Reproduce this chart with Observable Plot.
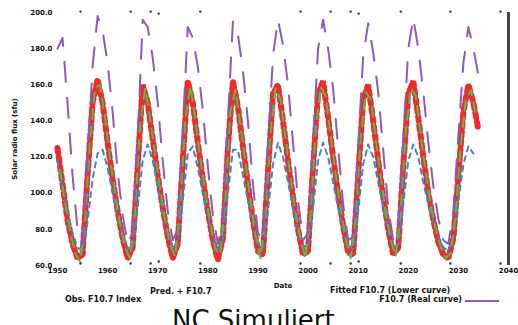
<!DOCTYPE html>
<html>
<head>
<meta charset="utf-8">
<script src="https://cdn.jsdelivr.net/npm/d3@7"></script>
<script src="https://cdn.jsdelivr.net/npm/@observablehq/plot@0.6"></script>
<style>
  html, body { margin: 0; padding: 0; background: #fff; }
  #wrap { position: relative; width: 518px; height: 325px; overflow: hidden; font-family: "DejaVu Sans", sans-serif; }
  #chart { position: absolute; left: 0; top: 0; }
  .lg { position: absolute; font-size: 8px; font-weight: bold; color: #111; white-space: nowrap; }
  .sw { position: absolute; height: 2px; }
  #title { position: absolute; left: 172px; top: 305px; font-size: 26px; color: #111; white-space: nowrap; font-family: "DejaVu Sans", sans-serif; }
</style>
</head>
<body>
<div id="wrap">
  <div id="chart"></div>
  <div class="lg" style="left:150px; top:287px;">Pred. + F10.7</div>
  <div class="lg" style="left:65px; top:295px;">Obs. F10.7 Index</div>
  <div class="lg" style="left:330px; top:286px;">Fitted F10.7 (Lower curve)</div>
  <div class="lg" style="right:56px; top:295px;">F10.7 (Real curve)</div>
  <div class="sw" style="left:465px; top:300px; width:34px; background:#8a5bbd;"></div>
  <div id="title">NC Simuliert</div>
</div>
<script>
// Axis ticks
const xTicks = [1950, 1960, 1970, 1980, 1990, 2000, 2010, 2020, 2030, 2040];
const yTicks = [60, 80, 100, 120, 140, 160, 180, 200];

// Predicted flux, yearly
const predYears = d3.range(1950, 2035);
const predValues = [
  125, 105, 85, 72, 64, 66, 110, 150, 163, 150,
  128, 108, 90, 75, 64, 70, 115, 160, 150, 130,
  110, 92, 76, 64, 72, 118, 162, 150, 128, 108,
  90, 74, 63, 75, 125, 162, 148, 126, 105, 85,
  68, 66, 112, 155, 160, 140, 118, 98, 80, 66,
  68, 115, 155, 162, 142, 120, 100, 82, 67, 66,
  110, 152, 160, 140, 118, 98, 80, 66, 70, 115,
  155, 162, 142, 120, 100, 85, 73, 66, 64, 75,
  110, 145, 160, 150, 135
];

// Fitted lower curve, yearly
const lowerYears = d3.range(1950, 2034);
const lowerValues = [
  118, 104, 90, 78, 70, 68, 84, 108, 122, 124,
  114, 100, 88, 77, 70, 69, 92, 118, 127, 118,
  104, 90, 79, 70, 72, 96, 122, 126, 114, 100,
  88, 76, 69, 74, 100, 124, 124, 110, 96, 84,
  72, 70, 90, 116, 128, 120, 106, 92, 80, 71,
  70, 92, 118, 128, 120, 106, 92, 80, 71, 69,
  90, 116, 127, 120, 106, 92, 80, 70, 72, 94,
  118, 127, 120, 106, 94, 84, 76, 70, 68, 76,
  96, 116, 126, 122
];

// Smoothed observed index, mid-year
const obsYears = d3.range(1950.5, 2034, 1);
const obsValues = [
  113, 95, 79, 67, 62, 84, 130, 158, 160, 141,
  119, 100, 83, 70, 64, 90, 138, 158, 141, 121,
  102, 85, 71, 65, 93, 141, 159, 141, 119, 100,
  83, 69, 66, 97, 145, 157, 138, 117, 96, 77,
  64, 87, 133, 158, 152, 130, 109, 90, 74, 64,
  88, 134, 159, 154, 132, 111, 92, 75, 64, 86,
  130, 156, 152, 130, 109, 90, 74, 65, 90, 134,
  158, 154, 132, 111, 93, 80, 70, 64, 67, 90,
  127, 152, 157, 143
];

// Real curve, yearly
const realYears = d3.range(1950, 2035);
const realValues = [
  180, 186, 150, 110, 80, 72, 120, 170, 198, 190,
  172, 145, 112, 88, 72, 78, 130, 196, 192, 175,
  150, 118, 90, 74, 80, 135, 192, 186, 170, 146,
  115, 88, 72, 84, 140, 195, 188, 168, 140, 105,
  78, 74, 125, 176, 196, 182, 160, 128, 96, 74,
  78, 128, 180, 196, 180, 158, 125, 94, 74, 76,
  124, 176, 194, 178, 156, 124, 92, 74, 80, 130,
  180, 197, 180, 156, 128, 104, 86, 74, 72, 90,
  132, 172, 192, 180, 165
];

// Small markers along the frame edges
const edgeTop = [1954.6, 1964.6, 1968.6, 1978.5, 1998.5, 2004.5, 2008.5, 2018.5, 2028.4, 2038.4];
const edgeTopInner = [1970.2, 2010.1];

const pred = predYears.map((x, i) => ({x, y: predValues[i]}));
const lower = lowerYears.map((x, i) => ({x, y: lowerValues[i]}));
const obs = obsYears.map((x, i) => ({x, y: obsValues[i]}));
const real = realYears.map((x, i) => ({x, y: realValues[i]}));

const chart = Plot.plot({
  width: 518,
  height: 290,
  marginTop: 12,
  marginBottom: 25,
  marginLeft: 57,
  marginRight: 10,
  style: {fontFamily: "DejaVu Sans, sans-serif", fontSize: "7px", fontWeight: "bold", color: "#111", background: "#fff"},
  x: {domain: [1950, 2040], ticks: xTicks, tickFormat: "d", tickSize: 0, tickPadding: 3,
      label: "Date", labelAnchor: "center", labelArrow: "none", labelOffset: 22},
  y: {domain: [60, 200], ticks: yTicks, tickFormat: ".1f", tickSize: 0, tickPadding: 5,
      label: "Solar radio flux (sfu)", labelAnchor: "center", labelArrow: "none", labelOffset: 45},
  marks: [
    Plot.line(pred, {x: "x", y: "y", stroke: "#ee2b2b", strokeWidth: 6, strokeDasharray: "5,4", strokeLinejoin: "miter"}),
    Plot.line(lower, {x: "x", y: "y", stroke: "#3a87cf", strokeWidth: 2, strokeDasharray: "5,5"}),
    Plot.line(obs, {x: "x", y: "y", stroke: "#4fc04f", strokeWidth: 2, strokeDasharray: "10,7"}),
    Plot.line(real, {x: "x", y: "y", stroke: "#8a5bbd", strokeWidth: 2, strokeDasharray: "20,16"}),
    Plot.ruleX([2040], {stroke: "#444", strokeWidth: 3}),
    Plot.dot(edgeTop, {x: d => d, y: 200.5, r: 1.2, fill: "#333", stroke: null}),
    Plot.dot(edgeTop, {x: d => d, y: 61.1, r: 1.2, fill: "#333", stroke: null}),
    Plot.dot(edgeTopInner, {x: d => d, y: 199.4, r: 1.2, fill: "#333", stroke: null}),
    Plot.dot(edgeTopInner, {x: d => d, y: 62.2, r: 1.2, fill: "#333", stroke: null})
  ]
});
document.getElementById("chart").appendChild(chart);
</script>
</body>
</html>
